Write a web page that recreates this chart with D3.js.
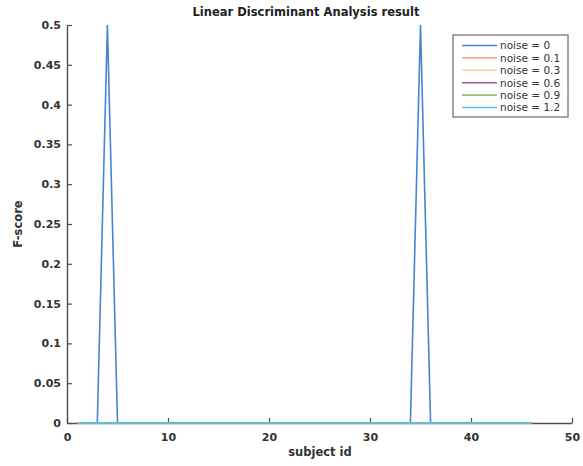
<!DOCTYPE html>
<html>
<head>
<meta charset="utf-8">
<script src="https://cdn.jsdelivr.net/npm/d3@7"></script>
<style>
  body { margin: 0; background: #fff; }
  svg { display: block; font-family: "DejaVu Sans", sans-serif; }
</style>
</head>
<body>
<svg id="chart" width="583" height="466"></svg>
<script>
// subject ids 1..46
var subjects = [1,2,3,4,5,6,7,8,9,10,11,12,13,14,15,16,17,18,19,20,21,22,23,24,25,26,27,28,29,30,31,32,33,34,35,36,37,38,39,40,41,42,43,44,45,46];
var noiseLabels = ["noise = 0", "noise = 0.1", "noise = 0.3", "noise = 0.6", "noise = 0.9", "noise = 1.2"];
var seriesColors = ["#4586cc", "#f0ad90", "#f6d59a", "#8e5ca6", "#93c56c", "#5bbde8"];

// F-score per subject, one array per noise level
var fNoise0   = [0,0,0,0.5,0,0,0,0,0,0,0,0,0,0,0,0,0,0,0,0,0,0,0,0,0,0,0,0,0,0,0,0,0,0,0.5,0,0,0,0,0,0,0,0,0,0,0];
var fNoise01  = [0,0,0,0,0,0,0,0,0,0,0,0,0,0,0,0,0,0,0,0,0,0,0,0,0,0,0,0,0,0,0,0,0,0,0,0,0,0,0,0,0,0,0,0,0,0];
var fNoise03  = [0,0,0,0,0,0,0,0,0,0,0,0,0,0,0,0,0,0,0,0,0,0,0,0,0,0,0,0,0,0,0,0,0,0,0,0,0,0,0,0,0,0,0,0,0,0];
var fNoise06  = [0,0,0,0,0,0,0,0,0,0,0,0,0,0,0,0,0,0,0,0,0,0,0,0,0,0,0,0,0,0,0,0,0,0,0,0,0,0,0,0,0,0,0,0,0,0];
var fNoise09  = [0,0,0,0,0,0,0,0,0,0,0,0,0,0,0,0,0,0,0,0,0,0,0,0,0,0,0,0,0,0,0,0,0,0,0,0,0,0,0,0,0,0,0,0,0,0];
var fNoise12  = [0,0,0,0,0,0,0,0,0,0,0,0,0,0,0,0,0,0,0,0,0,0,0,0,0,0,0,0,0,0,0,0,0,0,0,0,0,0,0,0,0,0,0,0,0,0];
var xTicks = [0, 10, 20, 30, 40, 50];
var yTicks = [0, 0.05, 0.1, 0.15, 0.2, 0.25, 0.3, 0.35, 0.4, 0.45, 0.5];

var allSeries = [fNoise0, fNoise01, fNoise03, fNoise06, fNoise09, fNoise12];

var svg = d3.select("#chart");
var plotLeft = 67, plotRight = 572, plotTop = 25, plotBottom = 423;

var x = d3.scaleLinear().domain([0, 50]).range([plotLeft, plotRight]);
var y = d3.scaleLinear().domain([0, 0.5]).range([plotBottom, plotTop]);

//坐标轴
var axisColor = "#4d4d4d";
var xAxis = svg.append("g")
    .attr("transform", "translate(0," + plotBottom + ")")
    .call(d3.axisBottom(x).tickValues(xTicks).tickSizeInner(-5).tickSizeOuter(0).tickPadding(10).tickFormat(d3.format("d")));
var yAxis = svg.append("g")
    .attr("transform", "translate(" + plotLeft + ",0)")
    .call(d3.axisLeft(y).tickValues(yTicks).tickSizeInner(-5).tickSizeOuter(0).tickPadding(6).tickFormat(function (d) { return d === 0 ? "0" : String(+d.toFixed(2)); }));

[xAxis, yAxis].forEach(function (g) {
    g.select(".domain").attr("stroke", axisColor).attr("stroke-width", 1.4);
    g.selectAll(".tick line").attr("stroke", axisColor).attr("stroke-width", 1.2);
    g.selectAll(".tick text").attr("fill", "#333").attr("font-size", 11).attr("font-weight", 600)
        .attr("font-family", "DejaVu Sans, sans-serif");
});

//画线
var line = d3.line()
    .x(function (d, i) { return x(subjects[i]); })
    .y(function (d) { return y(d); });

for (var i = 0; i < allSeries.length; i++) {
    svg.append("path")
        .datum(allSeries[i])
        .attr("fill", "none")
        .attr("stroke", seriesColors[i])
        .attr("stroke-width", 1.6)
        .attr("d", line);
}

// title and labels
svg.append("text")
    .attr("x", 306).attr("y", 16)
    .attr("text-anchor", "middle")
    .attr("font-size", 11.5).attr("font-weight", "bold").attr("fill", "#222")
    .text("Linear Discriminant Analysis result");

svg.append("text")
    .attr("x", 320).attr("y", 456)
    .attr("text-anchor", "middle")
    .attr("font-size", 11.5).attr("font-weight", 600).attr("fill", "#333")
    .text("subject id");

svg.append("text")
    .attr("transform", "translate(22,224) rotate(-90)")
    .attr("text-anchor", "middle")
    .attr("font-size", 11.5).attr("font-weight", 600).attr("fill", "#333")
    .text("F-score");

// legend
var legend = svg.append("g").attr("transform", "translate(453,35)");
legend.append("rect")
    .attr("width", 115).attr("height", 82)
    .attr("fill", "#fff").attr("stroke", "#6b6b6b").attr("stroke-width", 1.2);
for (var j = 0; j < noiseLabels.length; j++) {
    var ly = 10.5 + j * 12.4;
    legend.append("line")
        .attr("x1", 9).attr("x2", 44).attr("y1", ly).attr("y2", ly)
        .attr("stroke", seriesColors[j]).attr("stroke-width", 1.6);
    legend.append("text")
        .attr("x", 47).attr("y", ly + 3.8)
        .attr("font-size", 10.5).attr("fill", "#333")
        .text(noiseLabels[j]);
}
</script>
</body>
</html>
